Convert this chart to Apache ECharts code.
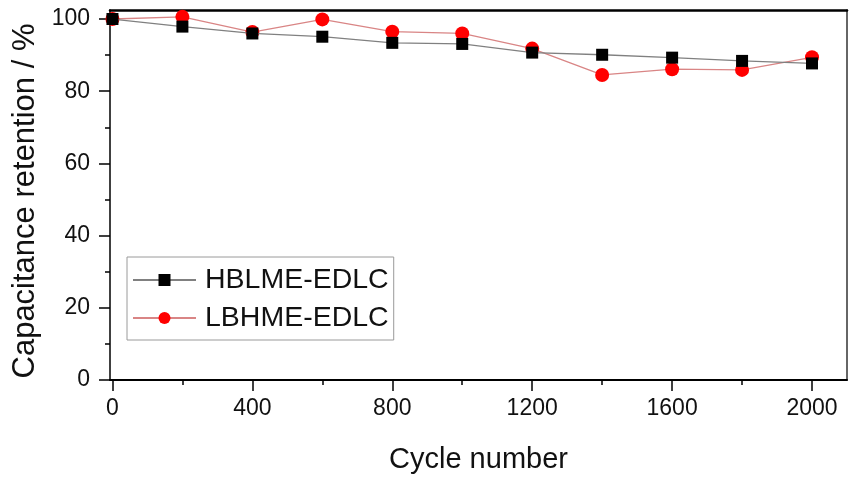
<!DOCTYPE html>
<html>
<head>
<meta charset="utf-8">
<script src="https://cdn.jsdelivr.net/npm/echarts@6/dist/echarts.min.js"></script>
<style>
  html, body { margin: 0; padding: 0; background: #fff; }
  #chart { width: 856px; height: 483px; }
</style>
</head>
<body>
<div id="chart"></div>
<script>
// ---- data ----
const cycles = [0, 200, 400, 600, 800, 1000, 1200, 1400, 1600, 1800, 2000];
const hblme = [100.0, 97.9, 96.0, 95.1, 93.4, 93.1, 90.7, 90.1, 89.3, 88.4, 87.7];
const lbhme = [100.0, 100.6, 96.4, 99.9, 96.5, 96.0, 91.8, 84.5, 86.1, 85.9, 89.4];
const seriesNames = ['HBLME-EDLC', 'LBHME-EDLC'];
const xLabelValues = [0, 400, 800, 1200, 1600, 2000];
const xMinorValues = [200, 600, 1000, 1400, 1800];
const yLabelValues = [0, 20, 40, 60, 80, 100];
const yMinorValues = [10, 30, 50, 70, 90];
const xTitle = 'Cycle number';
const yTitle = 'Capacitance retention / %';

const FONT = '"Liberation Sans", Arial, Helvetica, sans-serif';
const X_MIN = -7, X_MAX = 2100, Y_MIN = 0, Y_MAX = 102.5;

const chart = echarts.init(document.getElementById('chart'), null, { renderer: 'canvas' });

function pairs(xs, ys) { return xs.map((x, i) => [x, ys[i]]); }
const plain = v => String(v);

const option = {
  animation: false,
  backgroundColor: '#ffffff',
  grid: { left: 110, right: 9, top: 10, bottom: 103, containLabel: false },
  legend: {
    data: seriesNames,
    orient: 'vertical',
    left: 127,
    top: 257,
    itemWidth: 63,
    itemHeight: 15,
    itemGap: 8,
    padding: [8, 5, 7, 5],
    borderColor: '#9a9a9a',
    borderWidth: 1,
    textStyle: { fontFamily: FONT, fontSize: 28.5, color: '#111', lineHeight: 30, padding: [0, 0, 0, 4] }
  },
  xAxis: [
    {
      type: 'value', min: X_MIN, max: X_MAX, position: 'bottom',
      name: xTitle, nameLocation: 'middle', nameGap: 65,
      nameTextStyle: { fontFamily: FONT, fontSize: 29, color: '#111' },
      axisLine: { onZero: false, lineStyle: { color: '#000', width: 2 } },
      axisTick: { show: true, inside: false, length: 11, customValues: xLabelValues, lineStyle: { color: '#000', width: 1.5 } },
      axisLabel: { customValues: xLabelValues, formatter: plain, margin: 17, fontFamily: FONT, fontSize: 23, color: '#111' },
      splitLine: { show: false }
    },
    {
      type: 'value', min: X_MIN, max: X_MAX, position: 'bottom',
      axisLine: { show: false, onZero: false },
      axisTick: { show: true, inside: false, length: 5, customValues: xMinorValues, lineStyle: { color: '#000', width: 1.5 } },
      axisLabel: { show: false },
      splitLine: { show: false }
    },
    {
      type: 'value', min: X_MIN, max: X_MAX, position: 'top',
      axisLine: { onZero: false, lineStyle: { color: '#000', width: 2.5 } },
      axisTick: { show: false }, axisLabel: { show: false }, splitLine: { show: false }
    }
  ],
  yAxis: [
    {
      type: 'value', min: Y_MIN, max: Y_MAX, position: 'left',
      name: yTitle, nameLocation: 'middle', nameGap: 66, nameRotate: 90,
      nameTextStyle: { fontFamily: FONT, fontSize: 31, color: '#111', padding: [0, 12, 0, 0] },
      axisLine: { onZero: false, lineStyle: { color: '#000', width: 1.5 } },
      axisTick: { show: true, inside: false, length: 11, customValues: yLabelValues, lineStyle: { color: '#000', width: 1.5 } },
      axisLabel: { customValues: yLabelValues, formatter: plain, margin: 20, fontFamily: FONT, fontSize: 23, color: '#111' },
      splitLine: { show: false }
    },
    {
      type: 'value', min: Y_MIN, max: Y_MAX, position: 'left',
      axisLine: { show: false, onZero: false },
      axisTick: { show: true, inside: false, length: 5, customValues: yMinorValues, lineStyle: { color: '#000', width: 1.5 } },
      axisLabel: { show: false },
      splitLine: { show: false }
    },
    {
      type: 'value', min: Y_MIN, max: Y_MAX, position: 'right',
      axisLine: { onZero: false, lineStyle: { color: '#333', width: 1.5 } },
      axisTick: { show: false }, axisLabel: { show: false }, splitLine: { show: false }
    }
  ],
  series: [
    {
      name: seriesNames[0], type: 'line', xAxisIndex: 0, yAxisIndex: 0, z: 4,
      data: pairs(cycles, hblme),
      symbol: 'rect', symbolSize: 12,
      itemStyle: { color: '#000000' },
      lineStyle: { color: '#808080', width: 1.3 }
    },
    {
      name: seriesNames[1], type: 'line', xAxisIndex: 0, yAxisIndex: 0, z: 3,
      data: pairs(cycles, lbhme),
      symbol: 'circle', symbolSize: 14,
      itemStyle: { color: '#ff0000' },
      lineStyle: { color: '#d98585', width: 1.3 }
    }
  ]
};
chart.setOption(option);
</script>
</body>
</html>
